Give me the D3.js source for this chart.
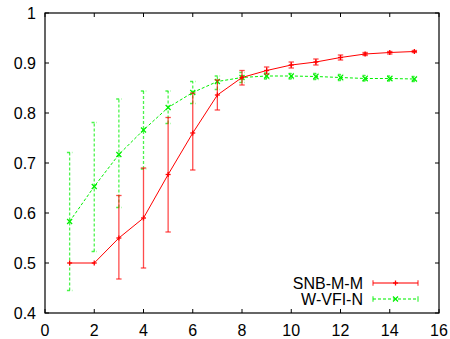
<!DOCTYPE html>
<html><head><meta charset="utf-8">
<script src="https://cdn.jsdelivr.net/npm/d3@7"></script>
<style>body{margin:0;background:#fff}svg{display:block}text{font-family:"Liberation Sans",Arial,sans-serif;font-size:16px;fill:#000}</style>
</head><body>
<svg id="c" width="450" height="339"></svg>
<script>
const xs = [1,2,3,4,5,6,7,8,9,10,11,12,13,14,15];
const snbMean = [0.5,0.5,0.55,0.59,0.677,0.76,0.836,0.871,0.885,0.896,0.902,0.911,0.918,0.921,0.923];
const snbLow  = [0.5,0.5,0.468,0.49,0.562,0.686,0.806,0.856,0.878,0.890,0.896,0.906,0.915,0.918,0.921];
const snbHigh = [0.5,0.5,0.635,0.69,0.791,0.84,0.866,0.885,0.892,0.902,0.908,0.916,0.921,0.923,0.925];
const vfiMean = [0.583,0.653,0.717,0.766,0.811,0.841,0.863,0.871,0.874,0.874,0.873,0.871,0.869,0.869,0.868];
const vfiLow  = [0.445,0.523,0.611,0.688,0.779,0.819,0.847,0.861,0.868,0.868,0.867,0.865,0.864,0.864,0.863];
const vfiHigh = [0.721,0.781,0.828,0.844,0.844,0.863,0.874,0.881,0.880,0.879,0.879,0.877,0.875,0.874,0.873];
const xTicks = [0,2,4,6,8,10,12,14,16];
const yTicks = [0.4,0.5,0.6,0.7,0.8,0.9,1];
const seriesNames = ["SNB-M-M","W-VFI-N"];

const L=45,R=439,T=13,B=313;
const svg=d3.select("#c");
const x=d3.scaleLinear().domain([0,16]).range([L,R]);
const y=d3.scaleLinear().domain([0.4,1]).range([B,T]);

// ticks (inside, mirrored)
const tk=4;
const g=svg.append("g").attr("stroke","#000").attr("stroke-width",1);
xTicks.forEach(v=>{
  g.append("line").attr("x1",x(v)).attr("x2",x(v)).attr("y1",B).attr("y2",B-tk);
  g.append("line").attr("x1",x(v)).attr("x2",x(v)).attr("y1",T).attr("y2",T+tk);
});
yTicks.forEach(v=>{
  g.append("line").attr("x1",L).attr("x2",L+tk).attr("y1",y(v)).attr("y2",y(v));
  g.append("line").attr("x1",R).attr("x2",R-tk).attr("y1",y(v)).attr("y2",y(v));
});
svg.selectAll(".xl").data(xTicks).enter().append("text")
  .attr("x",d=>x(d)).attr("y",336).attr("text-anchor","middle").text(d=>d);
svg.selectAll(".yl").data(yTicks).enter().append("text")
  .attr("x",36).attr("y",d=>y(d)+6).attr("text-anchor","end").text(d=>d3.format("")(d));

function drawSeries(mean,low,high,color,dash,marker){
  const eg=svg.append("g").attr("stroke",color).attr("stroke-width",1.3).attr("stroke-opacity",0.7)
    .attr("stroke-dasharray",dash||null);
  xs.forEach((xv,i)=>{
    if(low[i]===high[i]) return;
    const cx=x(xv);
    eg.append("line").attr("x1",cx).attr("x2",cx).attr("y1",y(low[i])).attr("y2",y(high[i]));
    eg.append("line").attr("x1",cx-2.7).attr("x2",cx+2.7).attr("y1",y(low[i])).attr("y2",y(low[i])).attr("stroke-dasharray",null);
    eg.append("line").attr("x1",cx-2.7).attr("x2",cx+2.7).attr("y1",y(high[i])).attr("y2",y(high[i])).attr("stroke-dasharray",null);
  });
  const line=d3.line().x((d,i)=>x(xs[i])).y(d=>y(d));
  svg.append("path").datum(mean).attr("d",line).attr("fill","none").attr("stroke",color)
    .attr("stroke-width",1).attr("stroke-dasharray",dash||null);
  xs.forEach((xv,i)=>drawMarker(x(xv),y(mean[i]),color,marker));
}
function drawMarker(cx,cy,color,marker){
  const s=2.5;
  const mg=svg.append("g").attr("stroke",color).attr("stroke-width",1.3);
  if(marker==="plus"){
    mg.append("line").attr("x1",cx-s).attr("x2",cx+s).attr("y1",cy).attr("y2",cy);
    mg.append("line").attr("x1",cx).attr("x2",cx).attr("y1",cy-s).attr("y2",cy+s);
  } else {
    mg.append("line").attr("x1",cx-s).attr("x2",cx+s).attr("y1",cy-s).attr("y2",cy+s);
    mg.append("line").attr("x1",cx-s).attr("x2",cx+s).attr("y1",cy+s).attr("y2",cy-s);
  }
}
const green="#00f000";
drawSeries(vfiMean,vfiLow,vfiHigh,green,"3,2","x");
drawSeries(snbMean,snbLow,snbHigh,"#ff0000",null,"plus");

// legend
const legY=[283,299], lx1=373, lx2=418;
[["#ff0000",null,"plus"],[green,"3,2","x"]].forEach((s,i)=>{
  svg.append("text").attr("x",363).attr("y",legY[i]+6).attr("text-anchor","end").text(seriesNames[i]);
  const lg=svg.append("g").attr("stroke",s[0]).attr("stroke-width",1.3).attr("stroke-opacity",0.7);
  lg.append("line").attr("x1",lx1).attr("x2",lx2).attr("y1",legY[i]).attr("y2",legY[i]).attr("stroke-dasharray",s[1]);
  lg.append("line").attr("x1",lx1).attr("x2",lx1).attr("y1",legY[i]-2.7).attr("y2",legY[i]+2.7);
  lg.append("line").attr("x1",lx2).attr("x2",lx2).attr("y1",legY[i]-2.7).attr("y2",legY[i]+2.7);
  drawMarker((lx1+lx2)/2,legY[i],s[0],s[2]);
});

// frame
svg.append("rect").attr("x",L).attr("y",T).attr("width",R-L).attr("height",B-T)
  .attr("fill","none").attr("stroke","#000").attr("stroke-width",1.2);
</script>
</body></html>
